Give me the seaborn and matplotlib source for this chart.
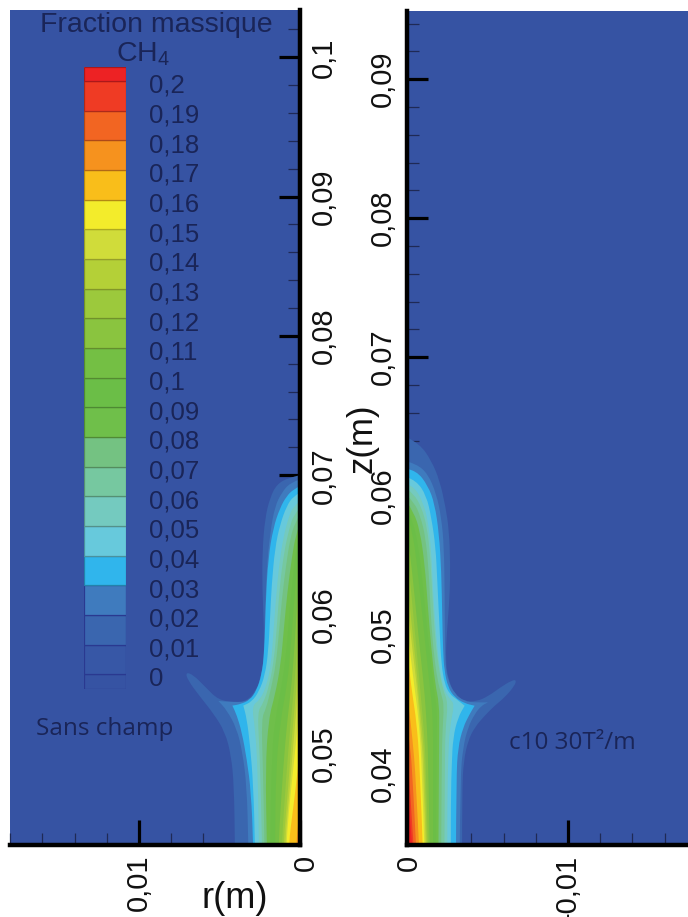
import numpy as np
import matplotlib
matplotlib.use("Agg")
import matplotlib.pyplot as plt
from matplotlib.path import Path
from matplotlib.patches import PathPatch
from matplotlib.ticker import MultipleLocator
from matplotlib.transforms import ScaledTranslation
import seaborn as sns

# ---- colour scale -----------------------------------------------------------
scale_levels = [-0.005, 0.0, 0.01, 0.02, 0.03, 0.04, 0.05, 0.06, 0.07, 0.08, 0.09, 0.10,
                0.11, 0.12, 0.13, 0.14, 0.15, 0.16, 0.17, 0.18, 0.19, 0.20, 0.2047]
scale_labels = ["0", "0,01", "0,02", "0,03", "0,04", "0,05", "0,06", "0,07", "0,08", "0,09", "0,1",
                "0,11", "0,12", "0,13", "0,14", "0,15", "0,16", "0,17", "0,18", "0,19", "0,2"]
scale_colors = ["#3653A3", "#3757A6", "#3A66AF", "#3F7BBE", "#30B5EC", "#67C9DC", "#74CABF",
                "#76C8A0", "#74C282", "#6FBF4A", "#6BBE47", "#74BF44", "#8AC43F", "#9CC93C",
                "#B4D037", "#D0DC3A", "#F3EC2B", "#F9BE1A", "#F6921E", "#F26522", "#EF3B24",
                "#ED2224"]

# ---- iso-fraction outlines, r and z in mm ------------------------------------
left_r_01 = [0, .72, 1.45, 1.86, 2.17, 2.34, 2.34, 2.24, 2.24, 2.48, 2.79, 3.31, 4.04, 5.07, 5.9, 6.62, 7.1, 6.98, 6.21, 5.38, 4.66, 4.28, 4.1, 4.04, 4.04]
left_z_01 = [70, 69.82, 69.34, 68.38, 66.94, 64.54, 61.66, 59.26, 56.86, 55.3, 54.46, 53.79, 53.7, 53.86, 54.82, 55.66, 55.86, 55.3, 54.1, 52.9, 51.58, 49.9, 47.74, 43.4, 42]
left_r_02 = [0, .62, 1.14, 1.55, 1.84, 2.07, 2.17, 2.21, 2.48, 2.79, 3.31, 4.04, 5.07, 5.07, 4.55, 3.93, 3.58, 3.31, 3.2, 3.2]
left_z_02 = [69.7, 69.46, 68.74, 67.78, 65.98, 63.34, 59.74, 56.86, 55.18, 54.34, 53.74, 53.7, 53.79, 53.79, 53.14, 51.82, 50.14, 47.74, 43.4, 42]
left_r_03 = [0, .41, .83, 1.24, 1.66, 1.97, 2.13, 2.21, 2.38, 2.69, 3.1, 3.73, 4.2, 4.2, 3.93, 3.62, 3.31, 3.04, 2.9, 2.9]
left_z_03 = [69.22, 68.98, 68.5, 67.66, 66.22, 64.06, 60.94, 57.34, 55.66, 54.58, 53.86, 53.55, 53.46, 53.46, 52.78, 51.58, 49.66, 47.26, 43.4, 42]
left_r_04 = [0, .41, .83, 1.24, 1.55, 1.76, 1.86, 1.97, 2.17, 2.55, 3.0, 3.52, 3.52, 3.31, 3.1, 2.9, 2.79, 2.79]
left_z_04 = [68.74, 68.5, 67.78, 66.46, 64.78, 62.14, 59.74, 57.34, 55.66, 54.46, 53.74, 53.46, 53.46, 52.54, 50.62, 47.74, 43.4, 42]
left_r_05 = [0, .41, .72, 1.04, 1.3, 1.51, 1.66, 1.8, 2.07, 2.48, 3.0, 2.79, 2.63, 2.55, 2.55]
left_z_05 = [68.14, 67.78, 66.94, 65.5, 63.58, 60.94, 58.54, 56.38, 54.94, 53.86, 53.46, 51.82, 48.94, 43.4, 42]
left_r_06 = [0, .39, .68, .98, 1.25, 1.43, 1.6, 1.9, 2.28, 2.65, 2.5, 2.35, 2.35]
left_z_06 = [67.66, 67.18, 66.1, 64.54, 62.14, 59.26, 56.86, 54.94, 53.62, 53.02, 50.14, 43.4, 42]
left_r_07 = [0, .32, .62, .86, 1.12, 1.32, 1.5, 1.8, 2.1, 2.4, 2.3, 2.2, 2.2]
left_z_07 = [67.18, 66.58, 65.38, 63.58, 61.18, 58.54, 56.38, 54.7, 53.26, 52.54, 48.94, 43.4, 42]
left_r_08 = [0, .26, .51, .78, 1.0, 1.2, 1.55, 1.95, 2.15, 2.05, 2.05]
left_z_08 = [66.58, 65.74, 64.06, 61.66, 59.02, 56.38, 54.22, 52.54, 48.94, 43.4, 42]
left_r_09 = [0, .23, .42, .65, .84, 1.12, 1.5, 1.75, 1.85, 1.85]
left_z_09 = [65.98, 64.78, 62.86, 60.22, 57.34, 54.94, 52.78, 50.14, 43.4, 42]
left_r_10 = [0, .2, .38, .58, .8, 1.2, 1.5, 1.55, 1.55]
left_z_10 = [65.02, 63.34, 60.7, 57.58, 54.94, 52.54, 48.94, 43.4, 42]
left_r_11 = [0, .17, .32, .5, .78, 1.05, 1.35, 1.35]
left_z_11 = [63.34, 60.94, 58.06, 55.18, 52.54, 48.94, 43.4, 42]
left_r_12 = [0, .15, .35, .6, .85, 1.15, 1.15]
left_z_12 = [61.42, 58.06, 54.94, 52.06, 48.46, 43.4, 42]
left_r_13 = [0, .14, .34, .55, .72, 1.05, 1.05]
left_z_13 = [59.26, 55.9, 53.26, 50.62, 47.74, 43.4, 42]
left_r_14 = [0, .2, .42, .62, .95, .95]
left_z_14 = [56.14, 53.5, 50.62, 47.74, 43.4, 42]
left_r_15 = [0, .2, .42, .7, .85, .85]
left_z_15 = [53.74, 51.34, 48.94, 45.82, 43.4, 42]
left_r_16 = [0, .15, .4, .72, .72]
left_z_16 = [50.62, 48.7, 46.3, 43.4, 42]
left_r_17 = [0, .1, .25, .25]
left_z_17 = [46.78, 45.1, 43.4, 42]

right_r_01 = [0, .79, 1.51, 2.03, 2.40, 2.61, 2.69, 2.65, 2.48, 2.40, 2.55, 2.96, 3.58, 4.31, 5.03, 5.86, 6.48, 6.79, 6.69, 6.07, 5.44, 4.82, 4.2, 3.79, 3.52, 3.42, 3.42]
right_z_01 = [64.24, 63.76, 62.56, 61.12, 59.2, 57.52, 55.12, 52.72, 50.32, 48.16, 46.84, 45.76, 45.23, 45.23, 45.59, 46.29, 46.72, 46.79, 46.36, 45.52, 44.92, 44.2, 43.36, 42.4, 40.96, 38.8, 34]
right_r_02 = [0, .58, 1.3, 1.82, 2.13, 2.3, 2.34, 2.36, 2.38, 2.55, 2.96, 3.58, 4.2, 5.03, 5.03, 4.62, 4.2, 3.79, 3.48, 3.31, 3.27]
right_z_02 = [62.49, 62.32, 61.6, 60.16, 58.48, 56.32, 52.72, 49.36, 47.92, 46.72, 45.76, 45.23, 45.16, 45.16, 45.16, 44.92, 44.32, 43.36, 41.92, 39.76, 34]
right_r_03 = [0, .58, 1.3, 1.72, 1.99, 2.13, 2.19, 2.24, 2.32, 2.55, 2.96, 3.58, 4.2, 4.2, 3.89, 3.48, 3.17, 3.06, 3.04]
right_z_03 = [61.96, 61.84, 60.76, 59.44, 57.28, 54.64, 51.28, 48.88, 47.44, 46.24, 45.52, 45.09, 44.92, 44.92, 44.32, 43.36, 41.92, 39.76, 34]
right_r_04 = [0, .58, 1.2, 1.51, 1.78, 1.88, 2.03, 2.13, 2.34, 2.65, 3.06, 3.58, 3.58, 3.17, 2.86, 2.78, 2.72, 2.72]
right_z_04 = [61.36, 61.12, 60.04, 58.48, 56.32, 53.92, 50.32, 47.92, 46.48, 45.76, 45.4, 44.92, 44.92, 44.08, 42.64, 40.72, 38.32, 34]
right_r_05 = [0, .48, .99, 1.3, 1.51, 1.61, 1.82, 1.99, 2.24, 2.65, 2.96, 2.65, 2.56, 2.5, 2.5]
right_z_05 = [60.88, 60.64, 59.56, 58.24, 56.08, 53.2, 49.84, 47.92, 46.24, 45.4, 45.04, 43.36, 41.2, 38.32, 34]
right_r_06 = [0, .42, .9, 1.25, 1.45, 1.58, 1.75, 2.0, 2.25, 2.55, 2.38, 2.35, 2.32]
right_z_06 = [60.52, 60.16, 59.2, 57.76, 55.6, 52.72, 49.6, 47.44, 46.0, 45.16, 43.12, 40.72, 34]
right_r_07 = [0, .45, .85, 1.15, 1.35, 1.45, 1.6, 1.85, 2.15, 2.3, 2.2, 2.15, 2.12]
right_z_07 = [60.04, 59.56, 58.48, 57.04, 54.64, 52, 49.36, 46.96, 45.64, 44.92, 43.12, 40.72, 34]
right_r_08 = [0, .42, .8, 1.1, 1.3, 1.5, 1.75, 2.0, 2.0, 1.98, 1.95]
right_z_08 = [59.56, 58.84, 57.52, 55.12, 52, 49.12, 46.48, 45.04, 43.12, 40.72, 34]
right_r_09 = [0, .35, .72, 1.0, 1.25, 1.5, 1.7, 1.85, 1.85, 1.82, 1.8]
right_z_09 = [59.15, 58.24, 56.32, 53.44, 50.32, 47.92, 45.76, 44.8, 43.12, 40.72, 34]
right_r_10 = [0, .33, .62, .9, 1.1, 1.3, 1.55, 1.62, 1.62, 1.62]
right_z_10 = [58.72, 57.52, 55.12, 52, 49.84, 47.44, 45.04, 43.12, 40.72, 34]
right_r_11 = [0, .22, .48, .68, .9, 1.1, 1.25, 1.32, 1.42]
right_z_11 = [57.52, 55.6, 52.72, 50.32, 47.92, 45.76, 43.12, 40.72, 34]
right_r_12 = [0, .17, .35, .52, .72, .9, 1.05, 1.18, 1.32]
right_z_12 = [56.08, 54.16, 52, 49.84, 47.44, 45.04, 43.12, 40.72, 34]
right_r_13 = [0, .15, .38, .6, .78, .95, 1.1, 1.25]
right_z_13 = [54.4, 52.24, 49.84, 47.44, 45.04, 43.12, 40.72, 34]
right_r_14 = [0, .14, .3, .5, .68, .85, 1.02, 1.18]
right_z_14 = [52.72, 51.04, 49.36, 47.44, 45.52, 43.12, 40.72, 34]
right_r_15 = [0, .14, .33, .55, .75, .92, 1.1]
right_z_15 = [50.56, 49.36, 47.44, 45.52, 43.6, 40.72, 34]
right_r_16 = [0, .14, .36, .58, .8, 1.0]
right_z_16 = [49.12, 47.44, 45.52, 43.84, 40.72, 34]
right_r_17 = [0, .14, .33, .55, .78]
right_z_17 = [45.76, 44.56, 42.64, 39.76, 34]
right_r_18 = [0, .2, .35, .6]
right_z_18 = [43.6, 42, 39.76, 34]
right_r_19 = [0, .15, .45]
right_z_19 = [41.9, 39.76, 34]
right_r_20 = [0, .14, .37]
right_z_20 = [39.76, 37.6, 34]

left_outlines = [(left_r_01, left_z_01), (left_r_02, left_z_02), (left_r_03, left_z_03), (left_r_04, left_z_04),
                 (left_r_05, left_z_05), (left_r_06, left_z_06), (left_r_07, left_z_07), (left_r_08, left_z_08),
                 (left_r_09, left_z_09), (left_r_10, left_z_10), (left_r_11, left_z_11), (left_r_12, left_z_12),
                 (left_r_13, left_z_13), (left_r_14, left_z_14), (left_r_15, left_z_15), (left_r_16, left_z_16),
                 (left_r_17, left_z_17)]
right_outlines = [(right_r_01, right_z_01), (right_r_02, right_z_02), (right_r_03, right_z_03), (right_r_04, right_z_04),
                  (right_r_05, right_z_05), (right_r_06, right_z_06), (right_r_07, right_z_07), (right_r_08, right_z_08),
                  (right_r_09, right_z_09), (right_r_10, right_z_10), (right_r_11, right_z_11), (right_r_12, right_z_12),
                  (right_r_13, right_z_13), (right_r_14, right_z_14), (right_r_15, right_z_15), (right_r_16, right_z_16),
                  (right_r_17, right_z_17), (right_r_18, right_z_18), (right_r_19, right_z_19), (right_r_20, right_z_20)]

left_ztick_values = [0.05, 0.06, 0.07, 0.08, 0.09, 0.10]
left_ztick_labels = ["0,05", "0,06", "0,07", "0,08", "0,09", "0,1"]
right_ztick_values = [0.04, 0.05, 0.06, 0.07, 0.08, 0.09]
right_ztick_labels = ["0,04", "0,05", "0,06", "0,07", "0,08", "0,09"]
left_rtick_labels = ["0", "0,01"]
right_rtick_labels = ["0", "-0,01"]
rtick_values = [0, 0.01]

W, H = 688, 917
sns.set_theme(style="white")
plt.rcParams["font.family"] = ["Liberation Sans", "DejaVu Sans"]
plt.rcParams["mathtext.default"] = "regular"
palette = sns.color_palette(scale_colors)
ink = "#111111"
navy = "#1A2558"


def box(x0, y0, x1, y1):
    return [x0 / W, 1 - y1 / H, (x1 - x0) / W, (y1 - y0) / H]


def add_outline(ax, r, z, color, order):
    pts = np.column_stack([r, z]) / 1000.0
    verts, codes = [pts[0]], [Path.MOVETO]
    n = len(pts)
    for i in range(1, n - 1):
        end = pts[i + 1] if i == n - 2 else (pts[i] + pts[i + 1]) / 2
        verts += [pts[i], end]
        codes += [Path.CURVE3, Path.CURVE3]
    verts += [(0, pts[-1, 1]), pts[0]]
    codes += [Path.LINETO, Path.CLOSEPOLY]
    ax.add_patch(PathPatch(Path(np.array(verts), codes), facecolor=color, edgecolor="none", zorder=order))


def style_panel(ax, outlines, xlim, ylim, zvals, zlabels, rlabels, zside, zero_shift):
    ax.set_facecolor(palette[0])
    for k, (r, z) in enumerate(outlines):
        add_outline(ax, r, z, palette[k + 2], 1 + k * 0.01)
    ax.set_xlim(*xlim)
    ax.set_ylim(*ylim)
    sns.despine(ax=ax, top=True, left=zside == "right", right=zside == "left")
    for s in ("bottom", zside):
        ax.spines[s].set_linewidth(3.2)
        ax.spines[s].set_color("black")
        ax.spines[s].set_zorder(6)
    ax.set_xticks(rtick_values, rlabels)
    ax.set_yticks(zvals, zlabels)
    ax.xaxis.set_minor_locator(MultipleLocator(0.002))
    ax.yaxis.set_minor_locator(MultipleLocator(0.002))
    ax.yaxis.set_ticks_position(zside)
    ax.xaxis.set_ticks_position("bottom")
    ax.tick_params(axis="y", which="major", direction="in", length=15, width=2.3, color="black",
                   labelsize=21, labelcolor=ink, pad=7, labelrotation=90, zorder=5)
    ax.tick_params(axis="x", which="major", direction="in", length=18, width=2.3, color="black",
                   labelsize=21, labelcolor=ink, pad=7, labelrotation=90, zorder=5)
    ax.tick_params(axis="both", which="minor", direction="in", length=8.5, width=0.9, color="#1F2A55", zorder=5)
    for t in ax.get_yticklabels():
        t.set_va("center")
    zero = ax.get_xticklabels()[0]
    zero.set_transform(zero.get_transform() + ScaledTranslation(zero_shift / 100, 0, fig.dpi_scale_trans))


fig = plt.figure(figsize=(W / 100, H / 100), dpi=100, facecolor="white")

ax_left = fig.add_axes(box(10, 10, 300, 845))
style_panel(ax_left, left_outlines, (0.01801, 0), (0.04345, 0.10340),
            left_ztick_values, left_ztick_labels, left_rtick_labels, "right", 6)

ax_right = fig.add_axes(box(407, 11, 688, 845))
style_panel(ax_right, right_outlines, (0, 0.01745), (0.03490, 0.09490),
            right_ztick_values, right_ztick_labels, right_rtick_labels, "left", 2)

# colour scale drawn as stacked bars on its own value axis
cax = fig.add_axes(box(84, 67, 126, 689))
for i, (low, high, col) in enumerate(zip(scale_levels[:-1], scale_levels[1:], palette)):
    edge = "#2A3990" if i < 4 else tuple(c * 0.72 for c in col)
    cax.bar(0.5, high - low, bottom=low, width=1, color=col, edgecolor=edge, linewidth=0.9)
cax.set_xlim(0, 1)
cax.set_ylim(scale_levels[0], scale_levels[-1])
cax.set_xticks([])
cax.set_yticks([])
for s in cax.spines.values():
    s.set_visible(False)
for value, label in zip(scale_levels[1:-1], scale_labels):
    cax.annotate(label, (1, value), xycoords=cax.get_yaxis_transform(), xytext=(16.5, -3.6),
                 textcoords="offset points", va="center", ha="left", fontsize=18.5, color=navy)

fig.text(156 / W, 1 - 25 / H, "Fraction massique", ha="center", va="center", fontsize=20.5, color=navy)
fig.text(143 / W, 1 - 54 / H, "CH$_4$", ha="center", va="center", fontsize=20.5, color=navy)
fig.text(105 / W, 1 - 729 / H, "Sans champ", ha="center", va="center", fontsize=17.5, color=navy, family="Open Sans")
fig.text(572 / W, 1 - 743 / H, "c10 30T²/m", ha="center", va="center", fontsize=17.5, color=navy, family="Open Sans")
fig.text(362 / W, 1 - 438 / H, "z(m)", ha="center", va="center", rotation=90, fontsize=25, color=ink)
fig.text(235 / W, 1 - 899 / H, "r(m)", ha="center", va="center", fontsize=26, color=ink)

fig.savefig("out.png", dpi=100)
